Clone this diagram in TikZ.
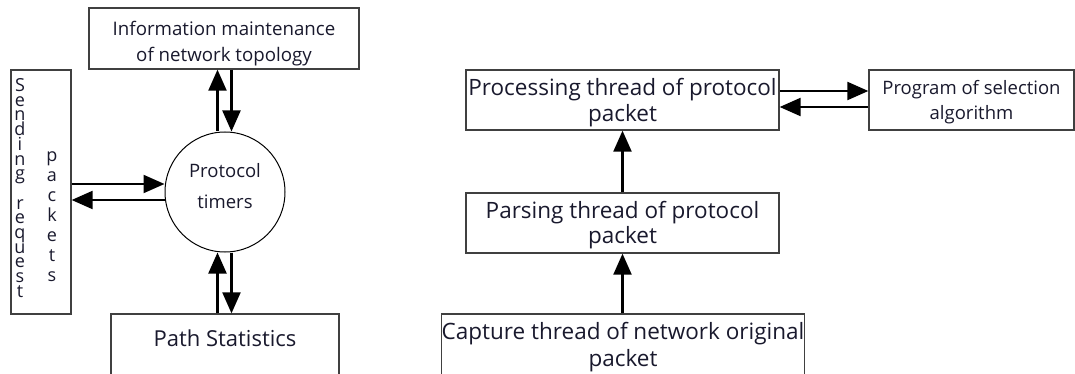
\documentclass[tikz,border=0pt]{standalone}
\usepackage{fontspec}
\setmainfont{Open Sans}
\usetikzlibrary{arrows.meta,calc}
\definecolor{txtcol}{RGB}{25,25,45}
\newcommand{\lowerby}[1]{\rule{0pt}{#1}}

\begin{document}
\begin{tikzpicture}[x=1pt,y=-1pt,
    box/.style={draw=black!75,line width=1.3pt,inner sep=0pt,align=center,text=txtcol},
    vtxt/.style={inner sep=0pt,align=center,text=txtcol},
    arr/.style={line width=2.2pt,-{Triangle[length=21pt,width=18pt]}},
  ]
    \useasboundingbox (0,0) rectangle (1075,374);

    % timer side
    \node[box,minimum width=270,minimum height=61,font=\fontsize{18.7}{26}\selectfont] (info) at (224,38.5) {\lowerby{24pt}Information maintenance\\of network topology};
    \node[box,minimum width=60,minimum height=244] (send) at (41,192) {};
    \node[vtxt,font=\fontsize{18}{14.7}\selectfont] (sendA) at (20,188) {S\\e\\n\\d\\i\\n\\g\\[14.7pt]r\\e\\q\\u\\e\\s\\t};
    \node[vtxt,font=\fontsize{18}{20}\selectfont] (sendB) at (52,217) {p\\a\\c\\k\\e\\t\\s};
    \node[draw,circle,line width=1pt,minimum size=120,inner sep=0pt,align=center,text=txtcol,font=\fontsize{18.5}{31}\selectfont] (timer) at (225,192) {Protocol\\timers\rule[-12pt]{0pt}{1pt}};
    \node[box,minimum width=228,minimum height=62,text depth=14pt,font=\fontsize{22}{26}\selectfont] (path) at (225,345) {Path Statistics};

    \draw[arr] ($(timer.north)+(-7.5,0)$) -- ($(timer.north |- info.south)+(-7.5,0)$);
    \draw[arr] ($(timer.north |- info.south)+(6.5,0)$) -- ($(timer.north)+(6.5,0)$);
    \draw[arr] ($(send.east |- timer.west)+(0,-8)$) -- ($(timer.west)+(0,-8)$);
    \draw[arr] ($(timer.west)+(0,8)$) -- ($(send.east |- timer.west)+(0,8)$);
    \draw[arr] ($(path.north)+(-7.5,0)$) -- ($(timer.south)+(-7.5,0)$);
    \draw[arr] ($(timer.south)+(6.5,0)$) -- ($(path.north)+(6.5,0)$);

    % thread side
    \node[box,minimum width=313,minimum height=60,font=\fontsize{22.5}{26}\selectfont] (proc) at (622.5,100) {\lowerby{22pt}Processing thread of protocol\\packet};
    \node[box,minimum width=205,minimum height=60,font=\fontsize{18.5}{25}\selectfont] (prog) at (971.5,100) {\lowerby{19pt}Program of selection\\algorithm};
    \node[box,minimum width=313,minimum height=60,font=\fontsize{22.5}{25}\selectfont] (parse) at (622.5,223) {\lowerby{22pt}Parsing thread of protocol\\packet};
    \node[box,minimum width=360,minimum height=62,font=\fontsize{22.5}{27}\selectfont] (capt) at (623,345) {\lowerby{21pt}Capture thread of network original\\packet};

    \draw[arr] ($(proc.east)+(0,-9)$) -- ($(prog.west)+(0,-9)$);
    \draw[arr] ($(prog.west)+(0,7)$) -- ($(proc.east)+(0,7)$);
    \draw[arr] (parse.north) -- (proc.south);
    \draw[arr] (capt.north -| parse.north) -- (parse.south);
\end{tikzpicture}
\end{document}
